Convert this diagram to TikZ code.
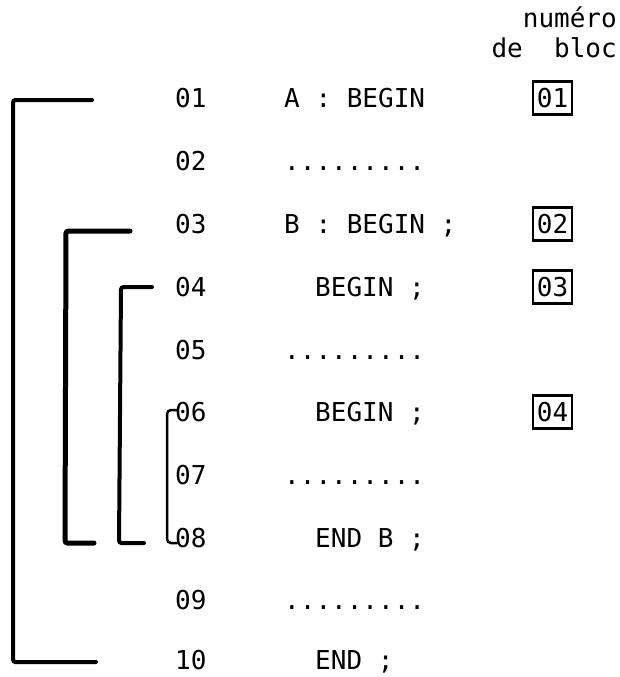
\documentclass[tikz,border=0pt]{standalone}
\usepackage{fontspec}
\newfontfamily\codefont{DejaVu Sans Mono}
\begin{document}
\begin{tikzpicture}[x=1pt,y=-1pt,
  txt/.style={inner sep=0pt, anchor=west, text height=19pt, text depth=0pt,
    font=\codefont\fontsize{26}{30}\selectfont},
  head/.style={inner sep=0pt, anchor=base east,
    font=\codefont\fontsize{26}{30}\selectfont},
  blocbox/.style={draw, line width=2.4pt, inner sep=0pt, minimum width=39pt,
    minimum height=33pt, text height=19pt, text depth=0pt,
    font=\codefont\fontsize{26}{30}\selectfont},
  bracket/.style={line width=4pt, rounded corners=2.5pt, line cap=round}
]
\useasboundingbox (0,0) rectangle (619,677);

% header of the block-number column
\node[head] (h1) at (617,28) {numéro};
\node[head] (h2) at (617,57) {de\ \ bloc};

% line numbers
\foreach \n/\y in {01/98,02/161,03/224,04/287,05/350,06/412,07/475,08/538,09/600,10/660}
  \node[txt] (n\n) at (175,\y) {\n};

% program text
\node[txt] (c01) at (284,98)  {A : BEGIN};
\node[txt] (c02) at (284,161) {.........};
\node[txt] (c03) at (284,224) {B : BEGIN ;};
\node[txt] (c04) at (315,287) {BEGIN ;};
\node[txt] (c05) at (284,350) {.........};
\node[txt] (c06) at (315,412) {BEGIN ;};
\node[txt] (c07) at (284,475) {.........};
\node[txt] (c08) at (315,538) {END B ;};
\node[txt] (c09) at (284,600) {.........};
\node[txt] (c10) at (315,660) {END ;};

% block numbers
\node[blocbox] (b1) at (552.5,98)  {01};
\node[blocbox] (b2) at (552.5,224) {02};
\node[blocbox] (b3) at (552.5,287) {03};
\node[blocbox] (b4) at (552.5,412) {04};

% nesting brackets
\coordinate (o-top) at (92,100);
\coordinate (o-bot) at (96,662);
\coordinate (p-top) at (130,231);
\coordinate (p-bot) at (94,543);
\coordinate (q-top) at (152,287);
\coordinate (q-bot) at (144,543);
\coordinate (r-top) at (177,410);
\coordinate (r-bot) at (177,543);

\draw[bracket] (o-top) -- (13,100) -- (13,662) -- (o-bot);
\draw[bracket, line width=5pt] (p-top) -- (66,231) -- (65,543) -- (p-bot);
\draw[bracket] (q-top) -- (121,287) -- (119,543) -- (q-bot);
\draw[bracket, line width=2.5pt, rounded corners=4pt] (r-top) -- (167,410) -- (167,543) -- (r-bot);
\end{tikzpicture}
\end{document}
